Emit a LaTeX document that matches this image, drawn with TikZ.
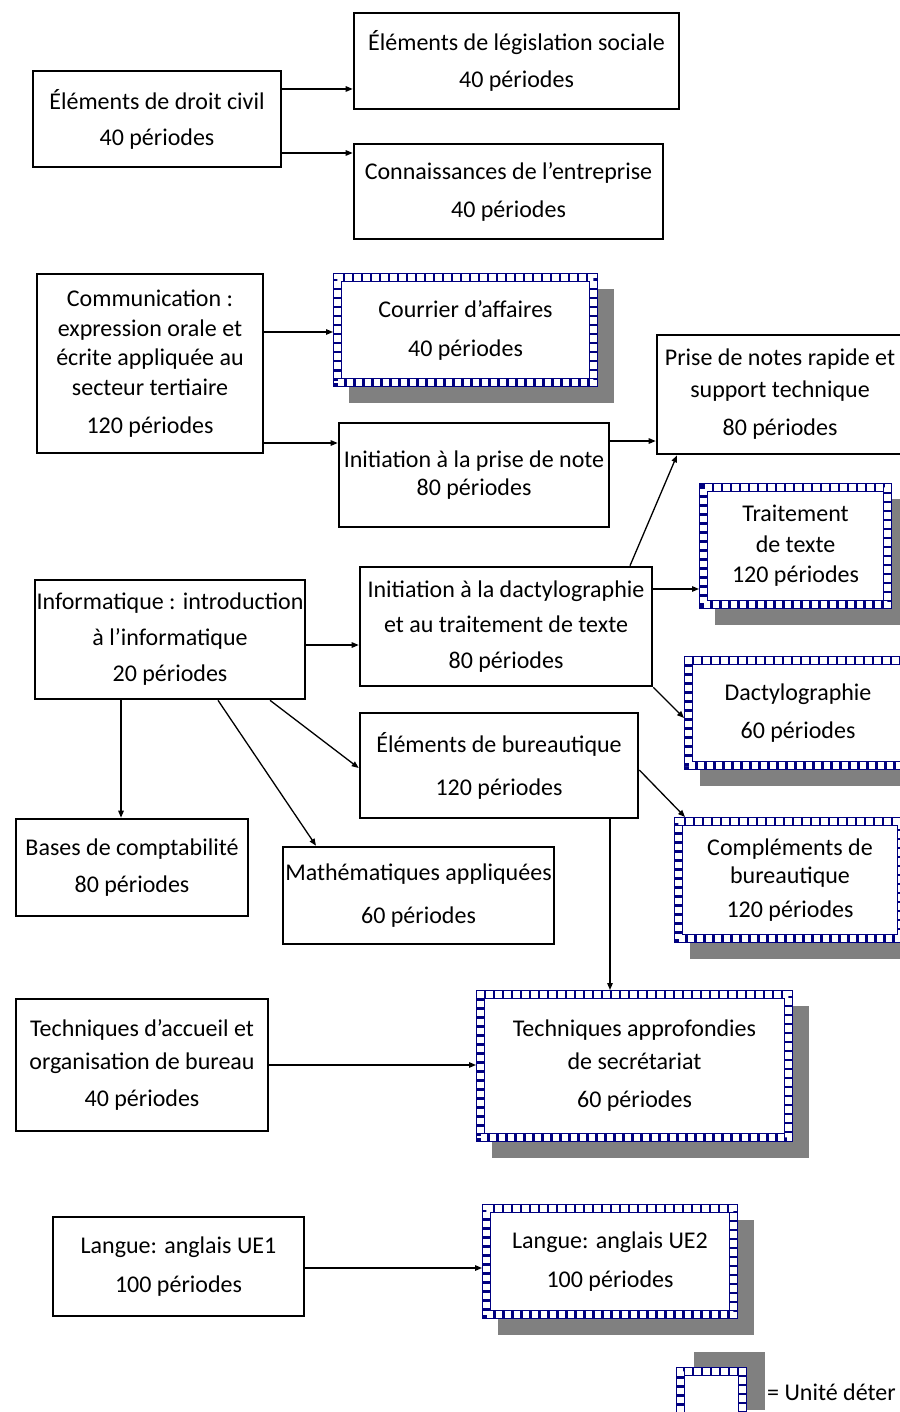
\documentclass[tikz,border=0pt]{standalone}
\usepackage{fontspec}
\setmainfont{Carlito}
\usetikzlibrary{arrows.meta}
\definecolor{navyb}{RGB}{0,0,128}
\definecolor{shad}{RGB}{128,128,128}
\begin{document}
\begin{tikzpicture}[x=1pt,y=-1pt,
  ls/.style={font=\fontsize{24}{#1}\selectfont},
  bx/.style={draw=black, line width=2.6pt, fill=white, inner sep=0pt, align=center},
  dbox/.style={inner sep=0pt, align=center, outer sep=4.5pt,
     preaction={fill=shad, draw=shad, solid, line width=9pt, transform canvas={shift={#1}}},
     preaction={fill=white, draw=none},
     preaction={draw=navyb, solid, line width=9pt},
     draw=white, line width=6.2pt, dash pattern=on 6.4pt off 2.6pt},
  dbox/.default={(16,16)},
  arr/.style={line width=1.3pt, -{Triangle[length=7pt,width=5.5pt]}}
]
\useasboundingbox (0,0) rectangle (899,1412);

\node[bx, minimum width=248, minimum height=96, ls=36] (civ) at (157,119) {Éléments de droit civil\\40 périodes};
\node[bx, minimum width=325, minimum height=96, ls=37] (leg) at (516.5,61) {Éléments de législation sociale\\40 périodes};
\node[bx, minimum width=309, minimum height=95, ls=38] (ent) at (508.5,191.5) {Connaissances de l’entreprise\\40 périodes};
\node[bx, minimum width=226, minimum height=179, ls=29.5] (com) at (150,363.5) {Communication :\\expression orale et\\écrite appliquée au\\secteur tertiaire\\[8.5pt]120 périodes};
\node[dbox, minimum width=256, minimum height=105, ls=39] (cou) at (465.5,330) {Courrier d’affaires\\40 périodes};
\node[bx, minimum width=270, minimum height=104, ls=28] (ipn) at (474,475) {Initiation à la prise de note\\80 périodes};
\node[bx, minimum width=246, minimum height=119, ls=32] (pnr) at (780,394.5) {Prise de notes rapide et\\support technique\\[6pt]80 périodes};
\node[dbox, minimum width=184, minimum height=117, ls=30.5] (trt) at (795.5,546) {Traitement\\de texte\\120 périodes};
\node[bx, minimum width=292, minimum height=119, ls=35.5] (dac) at (506,626.5) {Initiation à la dactylographie\\et au traitement de texte\\80 périodes};
\node[bx, minimum width=270, minimum height=119, ls=36] (inf) at (170,639.5) {Informatique : introduction\\à l’informatique\\20 périodes};
\node[dbox, minimum width=219, minimum height=105, ls=38] (dty) at (798,713) {Dactylographie\\60 périodes};
\node[bx, minimum width=278, minimum height=105, ls=43] (bur) at (499,765.5) {Éléments de bureautique\\120 périodes};
\node[bx, minimum width=232, minimum height=97, ls=37] (bas) at (132,867.5) {Bases de comptabilité\\80 périodes};
\node[bx, minimum width=271, minimum height=97, ls=43] (mat) at (418.5,895.5) {Mathématiques appliquées\\60 périodes};
\node[dbox, minimum width=223, minimum height=117, ls=28] (cpl) at (790,880) {Compléments de\\bureautique\\[6pt]120 périodes};
\node[dbox, minimum width=308, minimum height=143, ls=33] (tap) at (634.5,1066) {Techniques approfondies\\de secrétariat\\[5pt]60 périodes};
\node[bx, minimum width=252, minimum height=132, ls=33] (tac) at (142,1065) {Techniques d’accueil et\\organisation de bureau\\[4pt]40 périodes};
\node[bx, minimum width=251, minimum height=99, ls=39] (ue1) at (178.5,1266.5) {Langue: anglais UE1\\100 périodes};
\node[dbox, minimum width=247, minimum height=106, ls=39] (ue2) at (610,1261.5) {Langue: anglais UE2\\100 périodes};
\node[dbox={(18,-15)}, minimum width=62, minimum height=49] (lgd) at (711.5,1396) {};
\node[anchor=west, ls=28, inner sep=0pt] (lgt) at (767,1392) {= Unité déter};

\draw[arr] (civ.east |- 0,89) -- (leg.west |- 0,89);
\draw[arr] (civ.east |- 0,153) -- (ent.west |- 0,153);
\draw[arr] (com.east |- 0,332) -- (cou.west |- 0,332);
\draw[arr] (com.east |- 0,443) -- (ipn.west |- 0,443);
\draw[arr] (ipn.east |- 0,441) -- (pnr.west |- 0,441);
\draw[arr] (dac.north -| 630,0) -- (pnr.south -| 677,0);
\draw[arr] (dac.east |- 0,589) -- (trt.west |- 0,589);
\draw[arr] (inf.east |- 0,645) -- (dac.west |- 0,645);
\draw[arr] (dac.south east) -- (dty.west |- 0,718);
\draw[arr] (inf.south -| 121,0) -- (bas.north -| 121,0);
\draw[arr] (inf.south -| 218,0) -- (mat.north -| 316,0);
\draw[arr] (inf.south -| 270,0) -- (bur.west |- 0,768);
\draw[arr] (bur.east |- 0,770) -- (cpl.north -| 685,0);
\draw[arr] (bur.south -| 610,0) -- (tap.north -| 610,0);
\draw[arr] (tac.east |- 0,1065) -- (tap.west |- 0,1065);
\draw[arr] (ue1.east |- 0,1268) -- (ue2.west |- 0,1268);
\end{tikzpicture}
\end{document}
